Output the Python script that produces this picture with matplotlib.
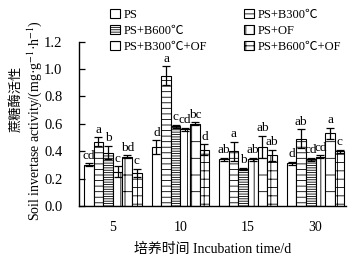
import numpy as np
import matplotlib
matplotlib.use("Agg")
import matplotlib.pyplot as plt
from matplotlib.patches import Patch

plt.rcParams['font.family'] = ['Liberation Serif', 'Noto Sans CJK SC', 'DejaVu Sans']
plt.rcParams['hatch.linewidth'] = 0.6
plt.rcParams['mathtext.fontset'] = 'stix'

days = ['5', '10', '15', '30']
treatments = ['PS', 'PS+B300℃', 'PS+B600℃', 'PS+OF', 'PS+B300℃+OF', 'PS+B600℃+OF']

ps = [0.30, 0.43, 0.34, 0.31]
ps_b300 = [0.47, 0.95, 0.40, 0.49]
ps_b600 = [0.39, 0.58, 0.27, 0.34]
ps_of = [0.25, 0.56, 0.34, 0.36]
ps_b300_of = [0.36, 0.60, 0.43, 0.53]
ps_b600_of = [0.24, 0.41, 0.37, 0.40]

err_ps = [0.01, 0.05, 0.01, 0.01]
err_b300 = [0.03, 0.07, 0.07, 0.07]
err_b600 = [0.05, 0.01, 0.01, 0.01]
err_of = [0.04, 0.01, 0.01, 0.01]
err_b300_of = [0.01, 0.01, 0.08, 0.04]
err_b600_of = [0.03, 0.04, 0.04, 0.01]

letters_ps = ['cd', 'd', 'ab', 'd']
letters_b300 = ['a', 'a', 'a', 'ab']
letters_b600 = ['b', 'c', 'b', 'cd']
letters_of = ['c', 'cd', 'ab', 'cd']
letters_b300_of = ['bd', 'bc', 'ab', 'a']
letters_b600_of = ['c', 'd', 'ab', 'c']

series = [ps, ps_b300, ps_b600, ps_of, ps_b300_of, ps_b600_of]
errs = [err_ps, err_b300, err_b600, err_of, err_b300_of, err_b600_of]
letters = [letters_ps, letters_b300, letters_b600, letters_of, letters_b300_of, letters_b600_of]
hatches = ['', '---', '-------', '||', '+', '++']

fig = plt.figure(figsize=(3.56, 2.6), dpi=100)
ax = fig.add_axes([0.222, 0.208, 0.75, 0.632])

x = np.arange(len(days))
w = 0.142
for i, (vals, e, lab, h) in enumerate(zip(series, errs, letters, hatches)):
    pos = x + (i - 2.5) * w
    ax.bar(pos, vals, w, color='white', edgecolor='black', linewidth=0.8, hatch=h)
    ax.errorbar(pos, vals, yerr=e, fmt='none', ecolor='black', elinewidth=0.9,
                capsize=3, capthick=0.9)
    for p, v, ee, t in zip(pos, vals, e, lab):
        ax.text(p, v + ee + 0.012, t, ha='center', va='bottom', fontsize=9.5)

ax.set_xlim(-0.5, 3.45)
ax.set_ylim(0, 1.2)
ax.set_yticks(np.arange(0, 1.21, 0.2))
ax.set_yticklabels(['%.1f' % t for t in np.arange(0, 1.21, 0.2)])
ax.set_xticks(x)
ax.set_xticklabels(days)
ax.tick_params(axis='y', direction='in', length=4, labelsize=10.5, width=0.9, pad=12)
ax.tick_params(axis='x', length=0, labelsize=10, pad=11)
ax.spines['top'].set_visible(False)
ax.spines['right'].set_visible(False)
for s in ['left', 'bottom']:
    ax.spines[s].set_linewidth(1.0)

ax.set_xlabel('培养时间 Incubation time/d', fontsize=10, labelpad=6)
fig.text(0.098, 0.535, 'Soil invertase activity/(mg·g$^{-1}$·h$^{-1}$)', rotation=90,
         ha='center', va='center', fontsize=10)
fig.text(0.046, 0.62, '蔗糖酶活性', rotation=90, ha='center', va='center', fontsize=9.5)

handles = [Patch(facecolor='white', edgecolor='black', hatch=h, linewidth=0.8) for h in hatches]
order = [0, 2, 4, 1, 3, 5]
leg = fig.legend([handles[k] for k in order], [treatments[k] for k in order],
                 ncol=2, loc='upper left', bbox_to_anchor=(0.285, 1.0), frameon=False,
                 fontsize=9, handlelength=0.8, handleheight=0.8, handletextpad=0.3,
                 columnspacing=2.9, labelspacing=0.3, borderpad=0.2)

fig.savefig('out.png', dpi=100)
